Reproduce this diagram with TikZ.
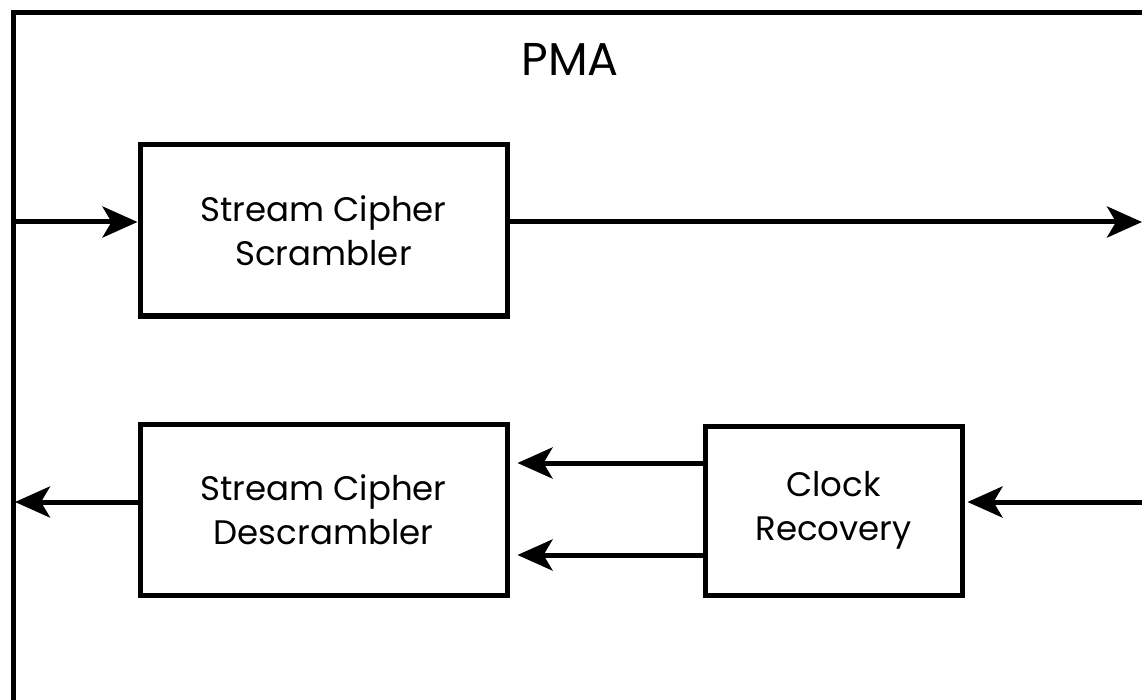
\documentclass[tikz,border=0pt]{standalone}
\usepackage{fontspec}
\setmainfont{Poppins}
\usetikzlibrary{arrows.meta}
\begin{document}
\begin{tikzpicture}[x=1pt,y=-1pt,
  line width=5pt,
  blk/.style={draw, line width=5pt, rectangle, inner sep=0pt, align=center,
    font=\fontsize{34}{44}\selectfont},
  arr/.style={-{Stealth[length=35pt,width=31pt,inset=9pt]}, line width=5pt}]
\useasboundingbox (0,0) rectangle (1142,700);
\clip (0,0) rectangle (1142,700);
\draw (1160,13) -- (13,13) -- (13,720);
\node[font=\fontsize{46}{50}\selectfont] (pma) at (570,59) {PMA};
\node[blk, minimum width=367pt, minimum height=171pt] (scr) at (323.5,230.5) {Stream Cipher\\Scrambler};
\node[blk, minimum width=367pt, minimum height=171pt] (desc) at (323.5,509.5) {Stream Cipher\\Descrambler};
\node[blk, minimum width=257pt, minimum height=169pt] (clk) at (833.5,510.5) {Clock\\Recovery};
\coordinate (inL) at (13,222);
\coordinate (outR) at (1142,222);
\coordinate (outL) at (13,502);
\coordinate (inR) at (1150,502);
\draw[arr] (inL) -- (scr.west |- inL);
\draw[arr] (scr.east |- outR) -- (outR);
\draw[arr, shorten >=2pt] (desc.west |- outL) -- (outL);
\draw[arr, shorten >=3pt] (inR) -- (clk.east |- inR);
\draw[arr, shorten >=8pt] (clk.west |- 0,463) -- (desc.east |- 0,463);
\draw[arr, shorten >=8pt] (clk.west |- 0,555) -- (desc.east |- 0,555);
\end{tikzpicture}
\end{document}
